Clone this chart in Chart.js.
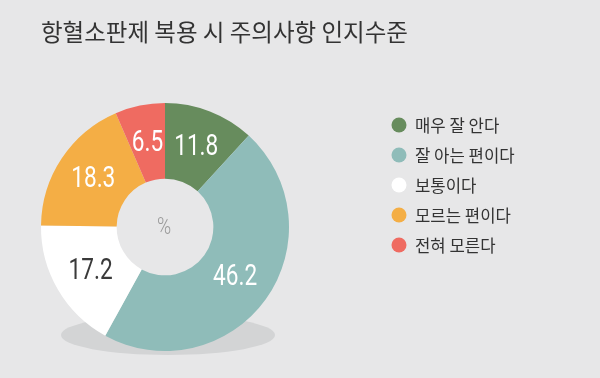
<!DOCTYPE html>
<html>
<head>
<meta charset="utf-8">
<script src="https://cdn.jsdelivr.net/npm/chart.js@4.4.1/dist/chart.umd.min.js"></script>
<style>
  html, body { margin: 0; padding: 0; background: #e7e7e8; }
  #wrap { width: 600px; height: 378px; }
</style>
</head>
<body>
<div id="wrap"><canvas id="c" width="600" height="378"></canvas></div>
<script>
const titleText = '항혈소판제 복용 시 주의사항 인지수준';
const categories = ['매우 잘 안다', '잘 아는 편이다', '보통이다', '모르는 편이다', '전혀 모른다'];
const values = [11.8, 46.2, 17.2, 18.3, 6.5];
const colors = ['#678c5d', '#8fbcb9', '#ffffff', '#f4ae45', '#ef6b61'];
const labelColors = ['#ffffff', '#ffffff', '#3a3a3a', '#ffffff', '#ffffff'];
const centerText = '%';

const numFont = 'Roboto, "Liberation Sans", sans-serif';
const krFont = '"Noto Sans CJK KR", "Noto Sans", sans-serif';

const shadowPlugin = {
  id: 'shadow',
  beforeDatasetsDraw(chart) {
    const a = chart.chartArea;
    const ctx = chart.ctx;
    const cx = (a.left + a.right) / 2 + 3;
    const cy = a.bottom - 16;
    ctx.save();
    ctx.fillStyle = '#d3d4d5';
    ctx.beginPath();
    ctx.ellipse(cx, cy, 107, 20, 0, 0, Math.PI * 2);
    ctx.fill();
    ctx.restore();
  }
};

function condensedText(ctx, text, x, y, sx) {
  ctx.save();
  ctx.translate(x, y);
  ctx.scale(sx, 1);
  ctx.fillText(text, 0, 0);
  ctx.restore();
}

const labelPlugin = {
  id: 'arcLabels',
  afterDatasetsDraw(chart) {
    const ctx = chart.ctx;
    const meta = chart.getDatasetMeta(0);
    ctx.save();
    ctx.textAlign = 'center';
    ctx.textBaseline = 'middle';
    ctx.font = '400 29px ' + numFont;
    meta.data.forEach((arc, i) => {
      const p = arc.tooltipPosition();
      ctx.fillStyle = labelColors[i];
      condensedText(ctx, values[i].toFixed(1), p.x, p.y + 1, 0.78);
    });
    const a = chart.chartArea;
    ctx.fillStyle = '#9a9a9a';
    ctx.font = '300 24px ' + numFont;
    condensedText(ctx, centerText, (a.left + a.right) / 2 - 1, (a.top + a.bottom) / 2 + 1, 0.8);
    ctx.restore();
  }
};

const sidePlugin = {
  id: 'sideText',
  afterDraw(chart) {
    const ctx = chart.ctx;
    ctx.save();
    ctx.textAlign = 'left';
    ctx.textBaseline = 'middle';
    ctx.fillStyle = '#333333';
    ctx.font = '23.5px ' + krFont;
    ctx.fillText(titleText, 41, 32);
    const x0 = 399, y0 = 125, step = 30;
    ctx.font = '16.7px ' + krFont;
    categories.forEach((c, i) => {
      const y = y0 + i * step;
      ctx.fillStyle = colors[i];
      ctx.beginPath();
      ctx.arc(x0, y, 7.5, 0, Math.PI * 2);
      ctx.fill();
      ctx.fillStyle = '#333333';
      ctx.fillText(c, x0 + 16, y + 1);
    });
    ctx.restore();
  }
};

new Chart(document.getElementById('c'), {
  type: 'doughnut',
  data: {
    labels: categories,
    datasets: [{
      data: values,
      backgroundColor: colors,
      borderWidth: 0,
      hoverOffset: 0
    }]
  },
  options: {
    responsive: false,
    animation: false,
    cutout: '39%',
    layout: { padding: { left: 41, right: 311, top: 103, bottom: 27 } },
    plugins: {
      legend: { display: false },
      tooltip: { enabled: false },
      title: { display: false }
    }
  },
  plugins: [shadowPlugin, labelPlugin, sidePlugin]
});
</script>
</body>
</html>
